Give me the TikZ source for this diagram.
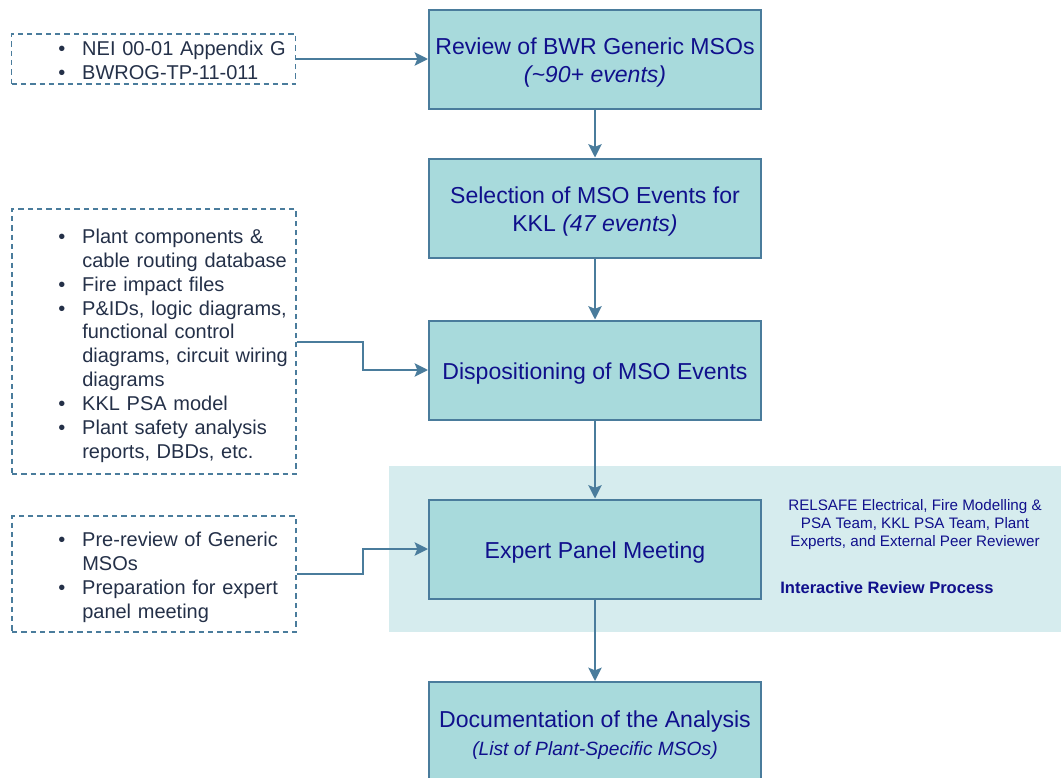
\documentclass[tikz,border=0pt]{standalone}
\usepackage{fontspec}
\setmainfont{Liberation Sans}
\usetikzlibrary{arrows.meta}
\definecolor{boxfill}{RGB}{168,218,220}
\definecolor{boxline}{RGB}{74,124,156}
\definecolor{navytext}{RGB}{16,16,140}
\definecolor{listtext}{RGB}{36,48,72}
\definecolor{zonefill}{RGB}{214,236,238}
\newcommand{\bitem}[1]{\par\hangindent=18pt\hangafter=1\noindent\makebox[18pt][l]{\textbullet}#1}
\newcommand{\topstrut}{\rule{0pt}{18pt}}

\begin{document}
\begin{tikzpicture}[x=0.75pt,y=-0.75pt,
  stepbox/.style={draw=boxline,line width=1.5pt,fill=boxfill,minimum width=249pt,
    minimum height=74.25pt,align=center,text=navytext,font=\fontsize{17.3}{21}\selectfont},
  srcframe/.style={draw=boxline,line width=1.1pt,dash pattern=on 4pt off 3pt,minimum width=213pt},
  srclist/.style={anchor=west,inner sep=0pt,text width=200pt,text=listtext,
    font=\fontsize{15}{17.9}\selectfont},
  flow/.style={draw=boxline,line width=1.5pt,-{Stealth[length=10pt,width=10pt,inset=2pt]}}]
\useasboundingbox (0,0) rectangle (1061,778);
%review zone
\fill[zonefill] (389,466) rectangle (1063,632);
% main steps
\node[stepbox] (review) at (595,59) {\topstrut Review of BWR Generic MSOs\\\textit{(\textasciitilde90+ events)}};
\node[stepbox] (select) at (595,208) {\topstrut Selection of MSO Events for\\KKL \textit{(47 events)}};
\node[stepbox] (dispo) at (595,370) {\topstrut Dispositioning of MSO Events};
\node[stepbox] (panel) at (595,549) {\topstrut Expert Panel Meeting};
\node[stepbox] (docu) at (595,731.5) {\topstrut Documentation of the Analysis\\{\fontsize{14.4}{18}\itshape(List of Plant-Specific MSOs)}};
% inputs
\node[srcframe,minimum height=37.5pt] (srcA) at (153.5,59) {};
\node[srcframe,minimum height=198.75pt] (srcB) at (154,341.5) {};
\node[srcframe,minimum height=87pt] (srcC) at (154,574) {};
\node[srclist] (listA) at (58,55.5) {\bitem{NEI 00-01 Appendix G}\bitem{BWROG-TP-11-011}\par};
\node[srclist] (listB) at (58,341) {\bitem{Plant components \&\newline cable routing database}%
  \bitem{Fire impact files}\bitem{P\&IDs, logic diagrams,\newline functional control\newline diagrams, circuit wiring\newline diagrams}%
  \bitem{KKL PSA model}\bitem{Plant safety analysis\newline reports, DBDs, etc.}\par};
\node[srclist] (listC) at (58,572.5) {\bitem{Pre-review of Generic\newline MSOs}\bitem{Preparation for expert\newline panel meeting}\par};
% panel notes
\node[align=center,text=navytext,font=\fontsize{11.4}{13.5}\selectfont] (team) at (915,525)
  {RELSAFE Electrical, Fire Modelling \&\\PSA Team, KKL PSA Team, Plant\\Experts, and External Peer Reviewer};
\node[text=navytext,font=\fontsize{12.4}{15}\selectfont\bfseries] (process) at (887,588) {Interactive Review Process};
% connectors
\draw[flow] (srcA.east) -- (review.west);
\draw[flow] (srcB.east) -- ++(66,0) |- (dispo.west);
\draw[flow] (srcC.east) -- ++(66,0) |- (panel.west);
\foreach \a/\b in {review/select,select/dispo,dispo/panel,panel/docu}
  \draw[flow] (\a) -- (\b);
\end{tikzpicture}
\end{document}
